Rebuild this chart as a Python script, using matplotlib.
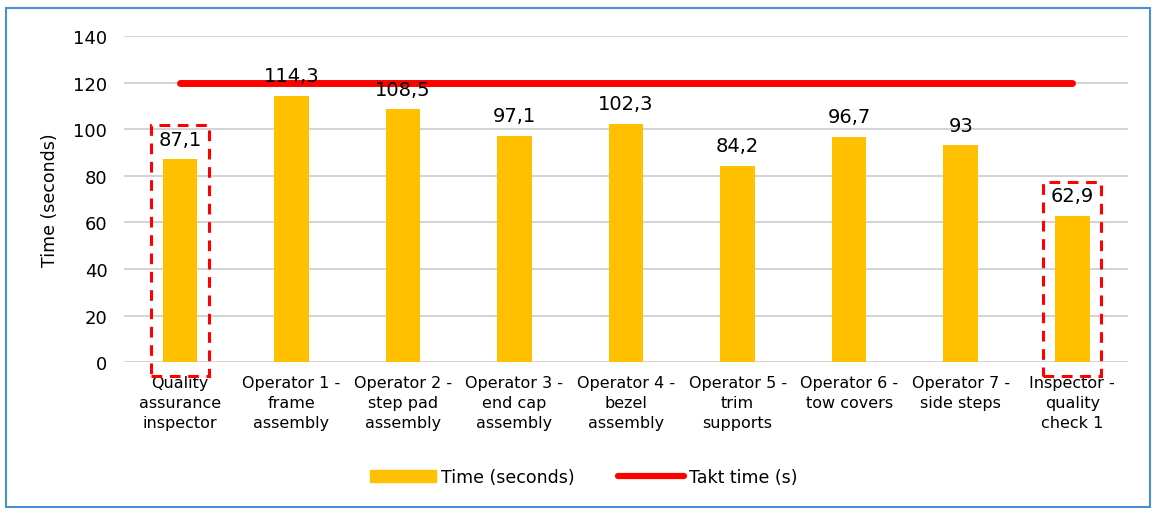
import numpy as np
import matplotlib.pyplot as plt
from matplotlib.patches import Rectangle
from matplotlib.lines import Line2D

# data
labels = ["Quality\nassurance\ninspector", "Operator 1 -\nframe\nassembly",
          "Operator 2 -\nstep pad\nassembly", "Operator 3 -\nend cap\nassembly",
          "Operator 4 -\nbezel\nassembly", "Operator 5 -\ntrim\nsupports",
          "Operator 6 -\ntow covers", "Operator 7 -\nside steps",
          "Inspector -\nquality\ncheck 1"]
times = [87.1, 114.3, 108.5, 97.1, 102.3, 84.2, 96.7, 93, 62.9]
takt = [120] * 9
highlight = [0, 8]

plt.rcParams['font.family'] = 'DejaVu Sans'
plt.rcParams['font.size'] = 12

fig = plt.figure(figsize=(11.56, 5.10), dpi=100)
ax = fig.add_axes([0.1073, 0.288, 0.8685, 0.6395])

x = np.arange(len(times))
ax.bar(x, times, width=0.31, color='#FFC000', zorder=2, label='Time (seconds)')
ax.plot(x, takt, color='#FF0000', lw=5, solid_capstyle='round', zorder=3, label='Takt time (s)')

for xi, v in zip(x, times):
    s = ('%g' % v).replace('.', ',')
    ax.text(xi, v + 4.5, s, ha='center', va='bottom', fontsize=14, zorder=4)

# dashed highlight boxes
for i in highlight:
    top = times[i] + 14.5
    ax.add_patch(Rectangle((i - 0.26, -6), 0.52, top + 6, fill=False,
                           edgecolor='#FF0000', lw=2.2, ls=(0, (3.5, 2.5)),
                           clip_on=False, zorder=5))

ax.set_xlim(-0.5, 8.5)
ax.set_ylim(0, 140)
ax.set_yticks(range(0, 141, 20))
ax.set_xticks(x)
ax.set_xticklabels(labels, fontsize=11.5, linespacing=1.45)
ax.tick_params(axis='both', length=0)
ax.tick_params(axis='x', labelsize=11.5, pad=9)
ax.tick_params(axis='y', labelsize=13, pad=12)
ax.yaxis.grid(True, color='#D0D0D0', lw=1.3, zorder=0)
ax.set_axisbelow(True)
for sp in ax.spines.values():
    sp.set_visible(False)
ax.set_ylabel('Time (seconds)', fontsize=12.5, labelpad=10)

handles = [Rectangle((0, 0), 1, 1, color='#FFC000'),
           Line2D([0], [0], color='#FF0000', lw=4.5, solid_capstyle='round')]
fig.legend(handles, ['Time (seconds)', 'Takt time (s)'], loc='center',
           bbox_to_anchor=(0.505, 0.063), ncol=2, frameon=False, fontsize=12.5,
           handlelength=3.8, handletextpad=0.3, columnspacing=2.5)

fig.patches.append(Rectangle((0.005, 0.004), 0.99, 0.978, transform=fig.transFigure,
                             fill=False, edgecolor='#4A8FD6', lw=1.5))

plt.savefig('out.png', dpi=100)
